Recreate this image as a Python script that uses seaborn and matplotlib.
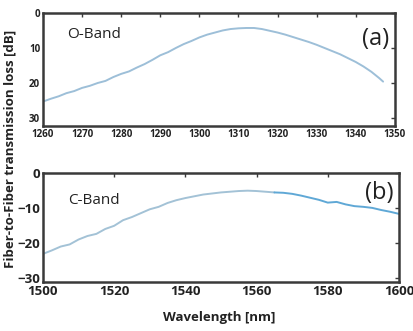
import pandas as pd
import matplotlib
matplotlib.use("Agg")
import matplotlib.pyplot as plt
import seaborn as sns

sns.set_theme(style="white")
plt.rcParams['font.family'] = ['Open Sans', 'DejaVu Sans']

# O-band measurement (loss in dB, positive)
o_wl = [1260, 1262, 1264, 1266, 1268, 1270, 1272, 1274, 1276, 1278, 1280, 1282,
        1284, 1286, 1288, 1290, 1292, 1294, 1296, 1298, 1300, 1302, 1304, 1306,
        1308, 1310, 1312, 1314, 1316, 1318, 1320, 1322, 1324, 1326, 1328, 1330,
        1332, 1334, 1336, 1338, 1340, 1342, 1344, 1346, 1347]
o_loss = [25.3, 24.5, 23.8, 22.9, 22.3, 21.4, 20.8, 20.0, 19.4, 18.3, 17.4, 16.7,
          15.6, 14.6, 13.4, 12.1, 11.2, 10.0, 8.9, 8.0, 7.0, 6.2, 5.6, 5.0,
          4.6, 4.4, 4.3, 4.3, 4.6, 5.1, 5.6, 6.2, 6.9, 7.6, 8.3, 9.1,
          10.0, 10.9, 11.8, 12.9, 14.0, 15.3, 16.8, 18.6, 19.6]

# C-band measurement (transmission in dB, negative)
c_wl = [1500, 1502.5, 1505, 1507.5, 1510, 1512.5, 1515, 1517.5, 1520, 1522.5,
        1525, 1527.5, 1530, 1532.5, 1535, 1537.5, 1540, 1542.5, 1545, 1547.5,
        1550, 1552.5, 1555, 1557.5, 1560, 1562.5, 1565, 1567.5, 1570, 1572.5,
        1575, 1577.5, 1580, 1582.5, 1585, 1587.5, 1590, 1592.5, 1595, 1597.5, 1600]
c_loss = [-23.0, -22.0, -20.9, -20.3, -18.9, -17.9, -17.3, -15.9, -15.0, -13.4,
          -12.5, -11.4, -10.3, -9.6, -8.5, -7.7, -7.1, -6.6, -6.1, -5.8,
          -5.5, -5.3, -5.1, -5.0, -5.1, -5.3, -5.5, -5.6, -5.9, -6.4,
          -7.0, -7.6, -8.4, -8.2, -8.9, -9.4, -9.6, -9.9, -10.5, -11.0, -11.6]

o_df = pd.DataFrame({'wl': o_wl, 'loss': o_loss})
c_df = pd.DataFrame({'wl': c_wl, 'loss': c_loss})

fig = plt.figure(figsize=(4.13, 3.31), dpi=100)
ax1 = fig.add_axes([0.104, 0.619, 0.852, 0.342])
ax2 = fig.add_axes([0.104, 0.148, 0.862, 0.329])

sns.lineplot(data=o_df, x='wl', y='loss', ax=ax1, color='#9dbfd8', linewidth=1.4)
sns.lineplot(data=c_df[c_df.wl <= 1565], x='wl', y='loss', ax=ax2, color='#a3c2d6', linewidth=1.4)
sns.lineplot(data=c_df[c_df.wl >= 1565], x='wl', y='loss', ax=ax2, color='#5fa8d6', linewidth=1.4)

ax1.set_xlim(1260, 1350)
ax1.set_ylim(32.3, 0)
ax1.set_xticks(range(1260, 1351, 10))
ax1.set_yticks([0, 10, 20, 30])

ax2.set_xlim(1500, 1600)
ax2.set_ylim(-31, 0)
ax2.set_xticks(range(1500, 1601, 20))
ax2.set_yticks([0, -10, -20, -30])

for ax in (ax1, ax2):
    ax.set_xlabel('')
    ax.set_ylabel('')
    for s in ax.spines.values():
        s.set_color('#3a3a3a')
        s.set_linewidth(1.8)
    ax.tick_params(direction='in', length=3, width=1, color='#3a3a3a',
                   top=True, right=True, pad=2, labelcolor='#222222')
    for lab in ax.get_xticklabels() + ax.get_yticklabels():
        lab.set_fontweight('bold')

for lab in ax1.get_xticklabels() + ax1.get_yticklabels():
    lab.set_fontsize(7)
for lab in ax2.get_xticklabels() + ax2.get_yticklabels():
    lab.set_fontsize(9.5)

ax1.text(0.07, 0.78, 'O-Band', transform=ax1.transAxes, fontsize=11, color='#222222')
ax1.text(0.985, 0.72, '(a)', transform=ax1.transAxes, fontsize=17, ha='right', color='#222222')
ax2.text(0.07, 0.72, 'C-Band', transform=ax2.transAxes, fontsize=11, color='#222222')
ax2.text(0.985, 0.76, '(b)', transform=ax2.transAxes, fontsize=17, ha='right', color='#222222')

fig.text(0.025, 0.55, 'Fiber-to-Fiber transmission loss [dB]', rotation=90,
         ha='center', va='center', fontsize=9.5, fontweight='bold', color='#222222')
fig.text(0.53, 0.04, 'Wavelength [nm]', ha='center', va='center',
         fontsize=9.5, fontweight='bold', color='#222222')

fig.savefig('out.png', dpi=100)
